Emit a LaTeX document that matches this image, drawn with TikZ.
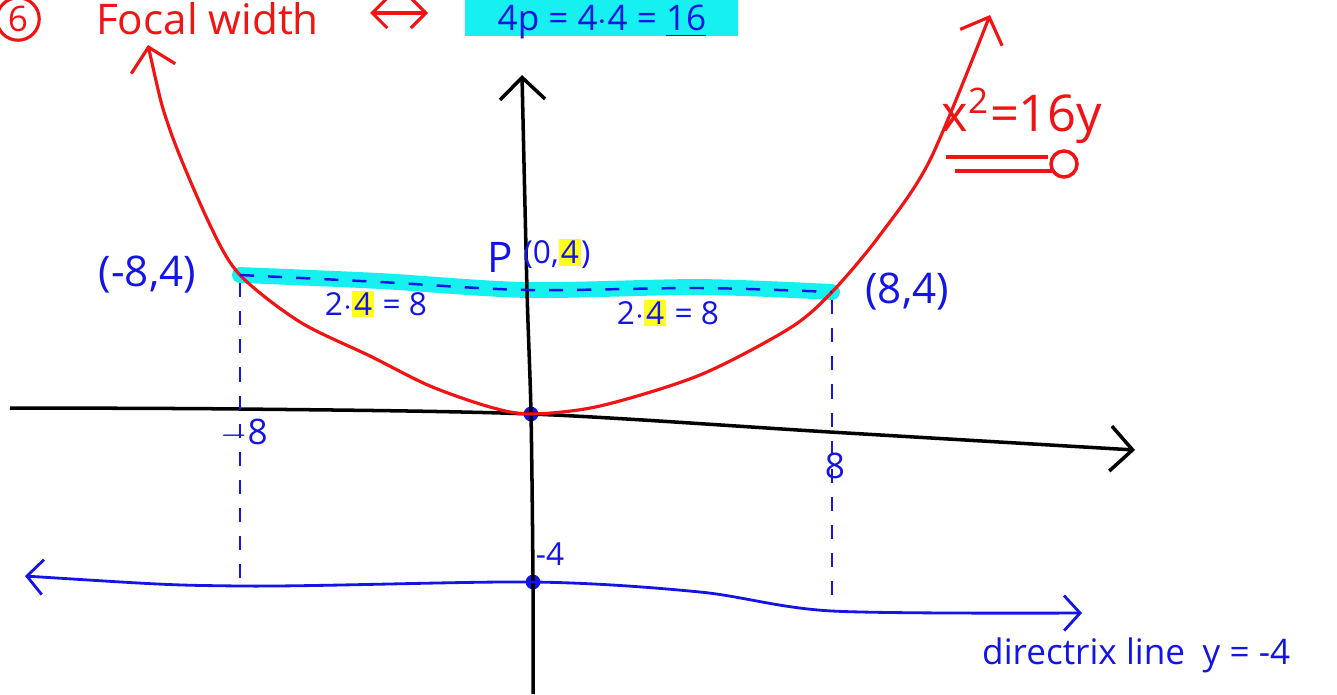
\documentclass[tikz,border=0pt]{standalone}
\usepackage{fontspec}
\setmainfont{Open Sans}
\usetikzlibrary{arrows.meta,positioning,calc}
\definecolor{penblue}{HTML}{1414E6}
\definecolor{penred}{HTML}{F21414}
\definecolor{marker}{HTML}{16F0F0}
\definecolor{hlyellow}{HTML}{FFFF1E}
\newcommand{\hlt}[1]{{\setlength{\fboxsep}{0.6pt}\colorbox{hlyellow}{#1}}}
\tikzset{
  axisline/.style={line width=1pt, black, -{Straight Barb[length=2.2mm,width=4.5mm]}},
  parab/.style={line width=0.9pt, penred, {Straight Barb[length=2.2mm,width=4.5mm]}-{Straight Barb[length=2.2mm,width=4.5mm]}},
  dirline/.style={line width=0.8pt, penblue, {Straight Barb[length=1.6mm,width=3.5mm]}-{Straight Barb[length=1.6mm,width=3.5mm]}},
  guide/.style={penblue, line width=0.7pt, dash pattern=on 4pt off 4pt},
  pt/.style={circle, fill=penblue, inner sep=0pt, minimum size=4.2pt},
  bluetxt/.style={text=penblue, font=\normalsize, inner sep=1pt},
  redtxt/.style={text=penred, font=\large, inner sep=1pt}}

\begin{document}
\begin{tikzpicture}[x=0.01cm, y=-0.01cm]
    \useasboundingbox (0,0) rectangle (1337,694);
    % points of the parabola
    \node[pt] (pl) at (240,275) {};
    \node[pt] (focus) at (527,290) {};
    \node[pt] (pr) at (832,292) {};
    \node[pt] (vtx) at (531,414) {};
    \node[pt] (dvtx) at (533,582) {};
    \coordinate (ybot) at (533,694);
    \coordinate (ytop) at (522,75);
    \coordinate (xl) at (10,408);
    \coordinate (xr) at (1135,450);
    \coordinate (dirL) at (25,576);
    \coordinate (dirR) at (1082,613);
    \coordinate (dA) at (240,586);
    \coordinate (dB) at (832,611);
    % latus rectum highlight
    \draw[marker, line width=4.5pt, line cap=round]
      plot[smooth] coordinates {(pl.center) (380,281) (focus.center) (700,287) (pr.center)};
    % axes
    \draw[axisline] plot[smooth] coordinates {(ybot) (dvtx.center) (vtx.center) (focus.center) (ytop)};
    \draw[axisline] plot[smooth] coordinates {(xl) (240,409) (vtx.center) (830,432) (xr)};
    % parabola x^2 = 16y
    \draw[parab] plot[smooth] coordinates {(148,45) (170,130) (210,225) (pl.center) (300,322)
      (370,356) (430,386) (490,407) (vtx.center) (600,406) (700,375) (790,328) (pr.center)
      (880,235) (930,160) (990,15)};
    % latus rectum, guides and directrix
    \draw[guide] plot[smooth] coordinates {(pl.center) (380,282) (focus.center) (700,288) (pr.center)};
    \draw[guide] (pl) -- (dA);
    \draw[guide] (pr) -- (dB);
    \draw[dirline] plot[smooth] coordinates {(dirL) (dA) (dvtx.center) (700,592) (dB) (dirR)};
    % labels
    \node[bluetxt, font=\large, left=9pt of pl] (lblpl) {(-8,4)};
    \node[bluetxt, font=\large, right=6pt of pr] (lblpr) {(8,4)};
    \node[bluetxt, font=\large] (lblp) at (500,257) {P};
    \node[bluetxt, font=\small] (lblf) at (557,254) {(0,\hlt{4})};
    \node[bluetxt, font=\small] (halfl) at (376,304) {2$\cdot$\hlt{4} = 8};
    \node[bluetxt, font=\small] (halfr) at (668,313) {2$\cdot$\hlt{4} = 8};
    \node[bluetxt] (tickl) at (244,433) {$-$8};
    \node[bluetxt] (tickr) at (835,466) {8};
    \node[bluetxt, font=\small] (tickd) at (550,554) {-4};
    \node[bluetxt, anchor=west] (dirlbl) at (978,655) {directrix line\enspace y = -4};
    % equation with underline
    \node[redtxt, font=\Large] (eq) at (1022,116) {x\textsuperscript{2}=16y};
    \draw[penred, line width=1pt] (946,157) -- (1048,157);
    \draw[penred, line width=1pt] (955,171) -- (1052,171);
    \draw[penred, line width=1pt] (1064,164) circle[radius=13];
    % heading
    \node[circle, draw=penred, line width=0.9pt, text=penred, font=\normalsize, inner sep=1pt] (num) at (18,19) {6};
    \node[redtxt, anchor=west] (title) at (92,19) {Focal width};
    \draw[penred, line width=0.9pt, {Straight Barb[length=1.5mm,width=3mm]}-{Straight Barb[length=1.5mm,width=3mm]}] (370,13) -- (428,13);
    \fill[marker] (465,0) rectangle (738,36);
    \node[bluetxt] (fw) at (602,22) {4p = 4$\cdot$4 = \underline{16}};
\end{tikzpicture}
\end{document}
